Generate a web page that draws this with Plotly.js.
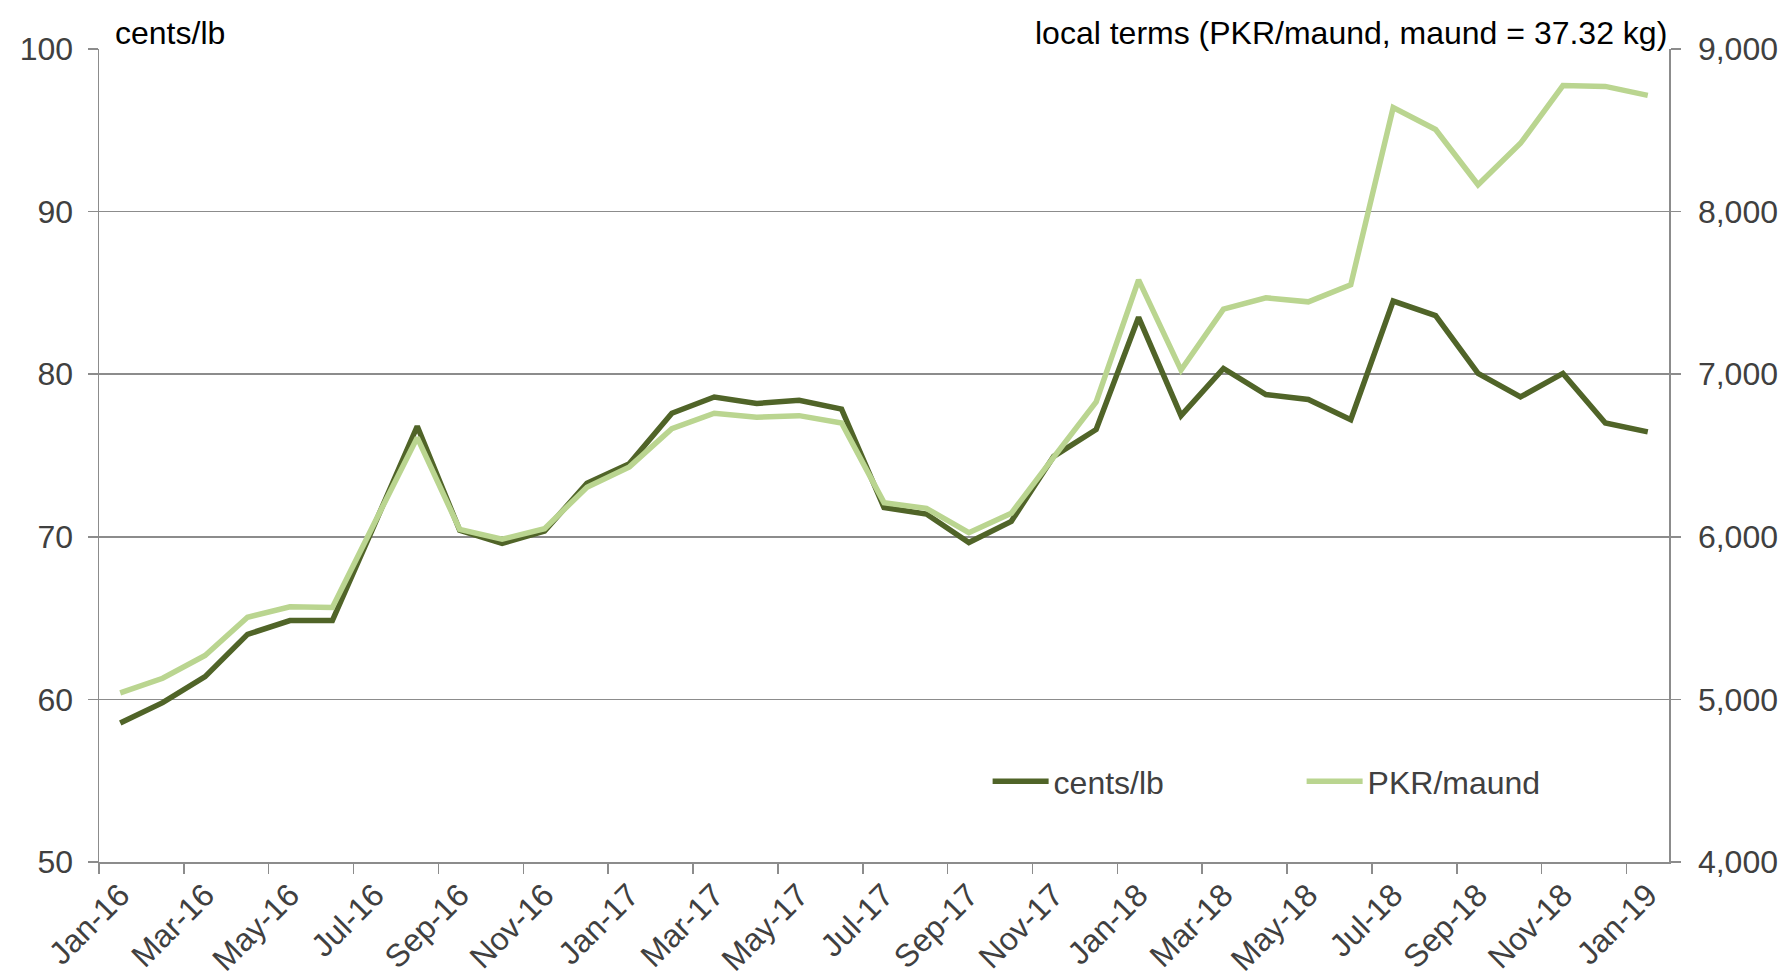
<!DOCTYPE html>
<html>
<head>
<meta charset="utf-8">
<script src="https://cdn.plot.ly/plotly-3.0.1.min.js"></script>
<style>
  html, body { margin: 0; padding: 0; background: #ffffff; }
  #chart { width: 1792px; height: 980px; }
</style>
</head>
<body>
<div id="chart"></div>
<script>
const months = [
  'Jan-16','Feb-16','Mar-16','Apr-16','May-16','Jun-16','Jul-16','Aug-16','Sep-16','Oct-16','Nov-16','Dec-16',
  'Jan-17','Feb-17','Mar-17','Apr-17','May-17','Jun-17','Jul-17','Aug-17','Sep-17','Oct-17','Nov-17','Dec-17',
  'Jan-18','Feb-18','Mar-18','Apr-18','May-18','Jun-18','Jul-18','Aug-18','Sep-18','Oct-18','Nov-18','Dec-18',
  'Jan-19'
];
const centsPerLb = [
  58.55, 59.8, 61.4, 64.0, 64.85, 64.85, 70.8, 76.8, 70.4, 69.6, 70.35, 73.3,
  74.5, 77.6, 78.6, 78.2, 78.4, 77.85, 71.8, 71.4, 69.65, 70.95, 74.95, 76.6,
  83.5, 77.45, 80.35, 78.75, 78.45, 77.2, 84.5, 83.6, 80.05, 78.6, 80.05, 77.0,
  76.45
];
const pkrPerMaund = [
  5040, 5130, 5270, 5505, 5570, 5565, 6090, 6610, 6045, 5985, 6050, 6305,
  6430, 6665, 6760, 6735, 6745, 6700, 6210, 6175, 6025, 6145, 6490, 6830,
  7580, 7025, 7400, 7470, 7445, 7550, 8640, 8505, 8165, 8420, 8775, 8770,
  8715
];
const seriesNames = ['cents/lb', 'PKR/maund'];
const leftTitle = 'cents/lb';
const rightTitle = 'local terms (PKR/maund, maund = 37.32 kg)';

const FONT = 'Liberation Sans, Arial, sans-serif';
const GRID = '#8c8c8c';
const TXT = '#404040';
const FS = 32;

const traces = [
  {
    x: months, y: centsPerLb, name: seriesNames[0], type: 'scatter', mode: 'lines',
    line: { color: '#506428', width: 5.5 }, yaxis: 'y'
  },
  {
    x: months, y: pkrPerMaund, name: seriesNames[1], type: 'scatter', mode: 'lines',
    line: { color: '#BAD590', width: 5.5 }, yaxis: 'y2'
  }
];

const layout = {
  width: 1792, height: 980,
  margin: { l: 99, r: 123, t: 49, b: 118 },
  paper_bgcolor: '#ffffff', plot_bgcolor: '#ffffff',
  font: { family: FONT, size: FS, color: TXT },
  showlegend: true,
  legend: {
    orientation: 'h', x: 0.566, y: 0.099, xanchor: 'left', yanchor: 'middle',
    font: { family: FONT, size: FS, color: TXT }, bgcolor: 'rgba(0,0,0,0)',
    entrywidth: 243, itemwidth: 56, traceorder: 'normal'
  },
  xaxis: {
    type: 'category', tickson: 'boundaries', dtick: 2, tickangle: -45,
    ticks: 'outside', ticklen: 10, tickwidth: 1.5, tickcolor: GRID,
    showline: true, linecolor: GRID, linewidth: 1.5, showgrid: false, zeroline: false,
    tickfont: { family: FONT, size: FS, color: TXT }, range: [-0.5, 36.5]
  },
  yaxis: {
    range: [50, 100], dtick: 10, ticks: 'outside', ticklen: 10, tickwidth: 1.5, tickcolor: GRID,
    showline: true, linecolor: GRID, linewidth: 1.5, showgrid: true, gridcolor: GRID, gridwidth: 1.5,
    zeroline: false, tickfont: { family: FONT, size: FS, color: TXT }, ticklabelstandoff: 8
  },
  yaxis2: {
    range: [4000, 9000], dtick: 1000, tickformat: ',', overlaying: 'y', side: 'right',
    ticks: 'outside', ticklen: 10, tickwidth: 1.5, tickcolor: GRID,
    showline: true, linecolor: GRID, linewidth: 1.5, showgrid: false, zeroline: false,
    tickfont: { family: FONT, size: FS, color: TXT }, ticklabelstandoff: 11
  },
  annotations: [
    { text: leftTitle, xref: 'paper', yref: 'paper', x: 0.009, y: 1, xanchor: 'left', yanchor: 'bottom',
      yshift: -4, showarrow: false, font: { family: FONT, size: 32, color: '#000000' } },
    { text: rightTitle, xref: 'paper', yref: 'paper', x: 1, y: 1, xanchor: 'right', yanchor: 'bottom',
      yshift: -4, showarrow: false, font: { family: FONT, size: 32, color: '#000000' } }
  ]
};

Plotly.newPlot('chart', traces, layout, { displayModeBar: false, staticPlot: true });
</script>
</body>
</html>
